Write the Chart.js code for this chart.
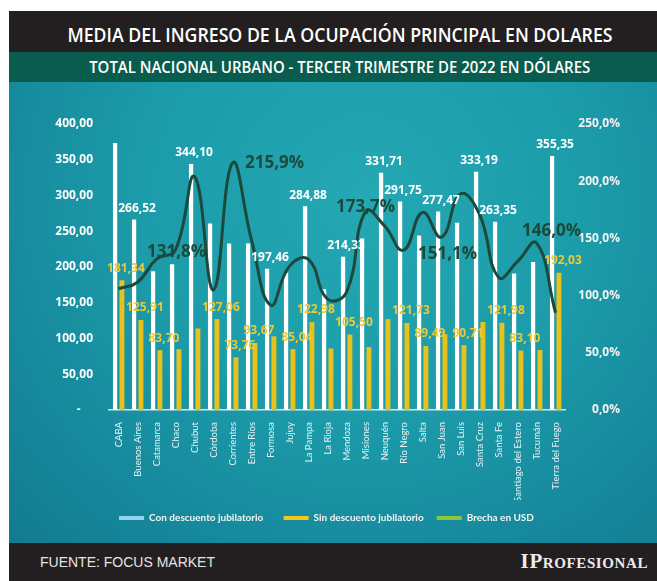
<!DOCTYPE html>
<html>
<head>
<meta charset="utf-8">
<script src="https://cdn.jsdelivr.net/npm/chart.js@4.4.1/dist/chart.umd.min.js"></script>
<style>
  body { margin: 0; background: #fff; }
  #wrap { position: absolute; left: 9px; top: 11px; width: 648px; height: 570px; }
  .title { height: 41px; background: #231f20; color: #fff; text-align: center; overflow: hidden; padding-left: 14px; box-sizing: border-box; }
  .title span { display: inline-block; font: 600 20px "Open Sans"; line-height: 48px; transform: scaleX(0.885); white-space: nowrap; }
  .sub { height: 30px; background: #0a5c4e; color: #fff; text-align: center; overflow: hidden; padding-left: 14px; box-sizing: border-box; }
  .sub span { display: inline-block; font: 600 17px "Open Sans"; line-height: 30px; transform: scaleX(0.88); white-space: nowrap; }
  .plot { position: relative; height: 461px;
    background: radial-gradient(ellipse at 55% 25%, #24a8b3 0%, #1c9ba9 45%, #15869a 80%, #137b8f 100%); }
  .foot { height: 38px; background: #231f20; position: relative; }
  .src { position: absolute; left: 31px; top: 11px; font: 14px "Liberation Sans"; color: #e4e4e4; }
  .logo { position: absolute; right: 9px; top: 6px; font: bold 21px "Liberation Serif"; font-variant: small-caps; color: #ececec; letter-spacing: 0.6px; }
</style>
</head>
<body>
<div id="wrap">
  <div class="title"><span>MEDIA DEL INGRESO DE LA OCUPACIÓN PRINCIPAL EN DOLARES</span></div>
  <div class="sub"><span>TOTAL NACIONAL URBANO - TERCER TRIMESTRE DE 2022 EN DÓLARES</span></div>
  <div class="plot"><canvas id="chart"></canvas></div>
  <div class="foot">
    <div class="src">FUENTE: FOCUS MARKET</div>
    <div class="logo">IProfesional</div>
  </div>
</div>
<script>
const provincias = ["CABA", "Buenos Aires", "Catamarca", "Chaco", "Chubut", "Córdoba", "Corrientes",
  "Entre Ríos", "Formosa", "Jujuy", "La Pampa", "La Rioja", "Mendoza", "Misiones", "Neuquén",
  "Río Negro", "Salta", "San Juan", "San Luis", "Santa Cruz", "Santa Fe", "Santiago del Estero",
  "Tucumán", "Tierra del Fuego"];

// USD
const conDescuento = [373.6, 266.52, 194.0, 204, 344.10, 261, 233, 233, 197.46, 192, 284.88, 169,
  214.33, 240, 331.71, 291.75, 244, 277.47, 262, 333.19, 263.35, 191, 207, 355.35];
const sinDescuento = [181.34, 125.91, 83.70, 85, 114, 127.06, 73.76, 93.67, 103, 85.04, 122.98, 86,
  105.50, 88, 127, 121.73, 89.49, 106, 90.71, 123, 121.98, 83.10, 84, 192.03];
// %
const brecha = [106, 111.7, 131.8, 140, 204, 105, 215.9, 148.7, 91.7, 125.8, 131.6, 97,
  103, 173.7, 161, 139.7, 172.7, 151.1, 188.8, 171, 115.9, 129.8, 146.0, 85];

const ticksUsd = [0, 50, 100, 150, 200, 250, 300, 350, 400];
const ticksPct = [0, 50, 100, 150, 200, 250];

// which values carry a label in the original
const conConEtiqueta = [1, 4, 8, 10, 12, 14, 15, 17, 19, 20, 23];
const sinConEtiqueta = [0, 1, 2, 5, 6, 7, 9, 10, 12, 15, 16, 18, 20, 21, 23];
const brechaConEtiqueta = [2, 6, 13, 17, 22];

const coma = (v, d) => v.toFixed(d).replace(".", ",");

// offsets of the % labels from their point
const pctOffset = { 2: [20, -7], 6: [42, 0], 13: [0, -4], 17: [6, 17], 22: [15, -12] };

const valueLabels = {
  id: "valueLabels",
  afterDatasetsDraw(chart) {
    const ctx = chart.ctx;
    const con = chart.getDatasetMeta(0), sin = chart.getDatasetMeta(1), gap = chart.getDatasetMeta(2);
    ctx.save();
    ctx.textAlign = "center";
    ctx.textBaseline = "middle";
    ctx.font = 'bold 12px "Open Sans"';
    ctx.fillStyle = "#ffffff";
    conConEtiqueta.forEach(i => {
      const b = con.data[i];
      ctx.fillText(coma(conDescuento[i], 2), b.x + 3, b.y - 11);
    });
    ctx.fillStyle = "#ecc93a";
    sinConEtiqueta.forEach(i => {
      const b = sin.data[i];
      ctx.fillText(coma(sinDescuento[i], 2), b.x + 4, b.y - 12);
    });
    ctx.font = 'bold 17px "Open Sans"';
    ctx.fillStyle = "#1b4a3d";
    brechaConEtiqueta.forEach(i => {
      const p = gap.data[i];
      const o = pctOffset[i] || [0, -10];
      ctx.fillText(coma(brecha[i], 1) + "%", p.x + o[0], p.y + o[1]);
    });
    ctx.restore();
  }
};

const ctx = document.getElementById("chart").getContext("2d");
new Chart(ctx, {
  type: "bar",
  data: {
    labels: provincias,
    datasets: [
      {
        label: "Con descuento jubilatorio",
        data: conDescuento,
        backgroundColor: "#ffffff",
        yAxisID: "y",
        order: 1,
        barPercentage: 0.62,
        categoryPercentage: 0.72
      },
      {
        label: "Sin descuento jubilatorio",
        data: sinDescuento,
        backgroundColor: "#e8c21c",
        yAxisID: "y",
        order: 1,
        barPercentage: 0.72,
        categoryPercentage: 0.72
      },
      {
        type: "line",
        label: "Brecha en USD",
        data: brecha,
        borderColor: "#1b4a3d",
        borderWidth: 3,
        pointRadius: 0,
        tension: 0.45,
        fill: false,
        yAxisID: "y1",
        order: 0
      }
    ]
  },
  options: {
    responsive: true,
    maintainAspectRatio: false,
    animation: false,
    layout: { padding: { top: 42, right: 37, bottom: 10, left: 24 } },
    plugins: {
      tooltip: { enabled: false },
      legend: {
        position: "bottom",
        labels: {
          color: "#f4f4f4",
          font: { family: "Lato", weight: "bold", size: 10 },
          boxWidth: 25,
          boxHeight: 4,
          padding: 13,
          generateLabels: () => [
            { text: "Con descuento jubilatorio   ", fillStyle: "#8fd4f2", strokeStyle: "#8fd4f2", lineWidth: 0, fontColor: "#f4f4f4" },
            { text: "Sin descuento jubilatorio", fillStyle: "#f2c81a", strokeStyle: "#f2c81a", lineWidth: 0, fontColor: "#f4f4f4" },
            { text: "Brecha en USD", fillStyle: "#8cc63f", strokeStyle: "#8cc63f", lineWidth: 0, fontColor: "#f4f4f4" }
          ]
        }
      }
    },
    scales: {
      x: {
        grid: { display: false },
        border: { display: true, color: "#d9e3e6", width: 1.5 },
        ticks: {
          autoSkip: false,
          maxRotation: 90,
          minRotation: 90,
          padding: 4,
          color: "#e6f3f5",
          font: { family: "Lato", size: 9.5 }
        },
        afterFit: s => { s.height = 90; }
      },
      y: {
        position: "left",
        min: 0,
        max: 400,
        grid: { display: false },
        border: { display: false },
        afterBuildTicks: s => { s.ticks = ticksUsd.map(v => ({ value: v })); },
        ticks: {
          padding: 8,
          color: "#ffffff",
          font: { family: "Open Sans", weight: "bold", size: 12 },
          callback: v => (v === 0 ? "-    " : coma(v, 2))
        },
        afterFit: s => { s.width = 76; }
      },
      y1: {
        position: "right",
        min: 0,
        max: 250,
        grid: { display: false },
        border: { display: false },
        afterBuildTicks: s => { s.ticks = ticksPct.map(v => ({ value: v })); },
        ticks: {
          crossAlign: "far",
          color: "#f4f4f4",
          font: { family: "Open Sans", weight: "bold", size: 12 },
          callback: v => coma(v, 1) + "%"
        },
        afterFit: s => { s.width = 55; }
      }
    }
  },
  plugins: [valueLabels]
});
</script>
</body>
</html>
